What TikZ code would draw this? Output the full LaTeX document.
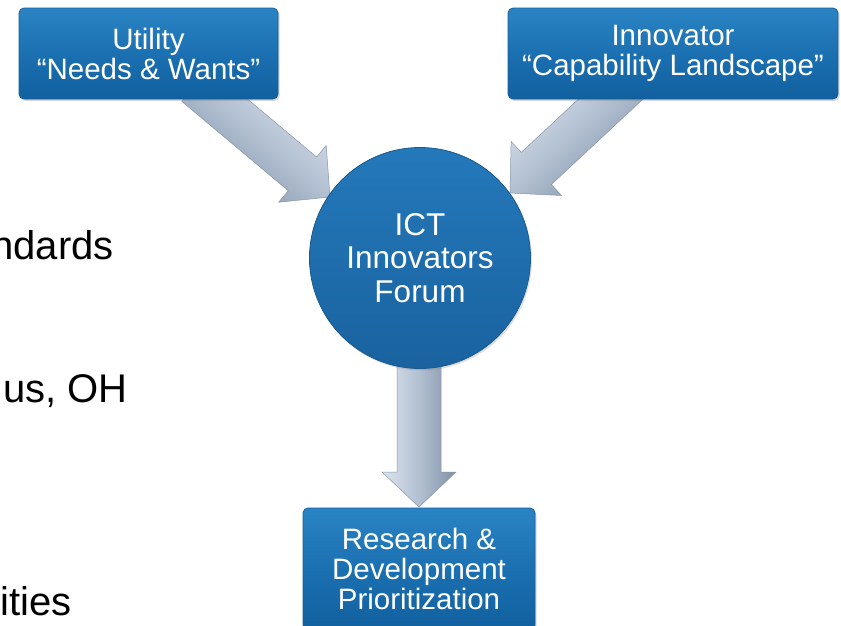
\documentclass[tikz,border=0pt]{standalone}
\usepackage{fontspec}
\setmainfont{Liberation Sans}
\usetikzlibrary{shadows}
\definecolor{boxtop}{HTML}{2A84C4}
\definecolor{boxmid}{HTML}{1B70B1}
\definecolor{boxbot}{HTML}{11609F}
\definecolor{boxedge}{HTML}{155F9C}
\definecolor{circtop}{HTML}{2479BA}
\definecolor{circbot}{HTML}{1A62A0}
\definecolor{circedge}{HTML}{18598E}
\definecolor{arrlight}{HTML}{DDE4EE}
\definecolor{arrmid}{HTML}{B2C0D2}
\definecolor{arrdark}{HTML}{8190A6}
\definecolor{arredge}{HTML}{8A97AA}
\begin{document}
\begin{tikzpicture}[x=1pt,y=1pt,
  boxnode/.style={rectangle, rounded corners=5pt, draw=boxedge, line width=0.8pt,
    top color=boxtop, bottom color=boxbot, middle color=boxmid, text=white, align=center, inner sep=0pt,
    font=\fontsize{29.5}{30}\selectfont,
    drop shadow={opacity=0.3, shadow xshift=1.5pt, shadow yshift=-2pt}},
  forum/.style={circle, draw=circedge, line width=0.8pt, top color=circtop, bottom color=circbot,
    text=white, align=center, inner sep=0pt, minimum size=221pt,
    font=\fontsize{31.5}{33.5}\selectfont,
    drop shadow={opacity=0.25, shadow xshift=1.5pt, shadow yshift=-2pt}},
  sidetext/.style={anchor=base east, inner sep=0pt, font=\fontsize{40}{44}\selectfont, text=black},
  blockarrow/.style={draw=arredge, line width=0.5pt, top color=arrlight, bottom color=arrdark, middle color=arrmid}
]
\clip (0,0) rectangle (841,-625);
\fill[white] (0,0) rectangle (841,-625);

% partial side texts
\node[sidetext] (s1) at (114,-259) {ndards};
\node[sidetext] (s2) at (128,-402) {us, OH};
\node[sidetext] (s3) at (72,-615) {ities};

% arrow tips
\coordinate (tipL) at (330,-197);
\coordinate (tipR) at (510,-193);
\coordinate (tipD) at (419,-507);

% left arrow (Utility -> Forum)
\begin{scope}[shift={(tipL)}, rotate=-40]
  \path[blockarrow, shading angle=-40] (0,0) -- (-36,37) -- (-36,22) -- (-175,22) -- (-175,-22) -- (-36,-22) -- (-36,-37) -- cycle;
\end{scope}
% right arrow (Innovator -> Forum)
\begin{scope}[shift={(tipR)}, rotate=-137]
  \path[blockarrow, shading angle=43] (0,0) -- (-36,37) -- (-36,22) -- (-165,22) -- (-165,-22) -- (-36,-22) -- (-36,-37) -- cycle;
\end{scope}
% down arrow (Forum -> R&D)
\begin{scope}[shift={(tipD)}, rotate=-90]
  \path[blockarrow, shading angle=90] (0,0) -- (-35,37) -- (-35,22) -- (-170,22) -- (-170,-22) -- (-35,-22) -- (-35,-37) -- cycle;
\end{scope}

% nodes
\node[boxnode, minimum width=259pt, minimum height=91pt] (util) at (148.5,-53.5)
  {Utility\\“Needs \& Wants”};
\node[boxnode, minimum width=330pt, minimum height=91pt] (innov) at (673,-53.5)
  {Innovator\\“Capability Landscape”};
\node[forum] (forum) at (420,-258) {ICT\\Innovators\\Forum};
\node[boxnode, minimum width=232pt, minimum height=122pt] (rd) at (419,-569)
  {Research \&\\Development\\Prioritization};
\end{tikzpicture}
\end{document}
